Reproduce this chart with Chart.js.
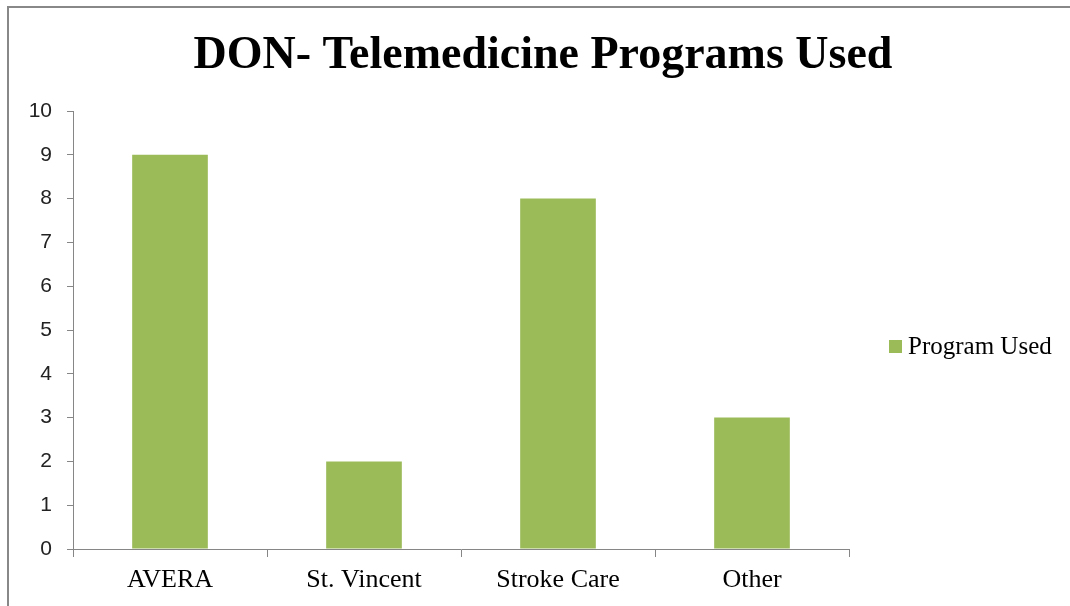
<!DOCTYPE html>
<html>
<head>
<meta charset="utf-8">
<script src="https://cdn.jsdelivr.net/npm/chart.js@4/dist/chart.umd.min.js"></script>
<style>
  html, body { margin: 0; padding: 0; background: #fff; overflow: hidden; }
  #frame { position: absolute; left: 7px; top: 6px; width: 2000px; height: 2000px;
           border-left: 2px solid #888; border-top: 2px solid #888; }
  #c { position: absolute; left: 0; top: 0; }
</style>
</head>
<body>
<div id="frame"></div>
<canvas id="c" width="1070" height="606"></canvas>
<script>
const chartTitle = 'DON- Telemedicine Programs Used';
const categories = ['AVERA', 'St. Vincent', 'Stroke Care', 'Other'];
const seriesName = 'Program Used';
const programUsed = [9, 2, 8, 3];
const yTicks = [0, 1, 2, 3, 4, 5, 6, 7, 8, 9, 10];

const BAR_COLOR = '#9BBB59';
const AXIS_COLOR = '#868686';

const overlayPlugin = {
  id: 'overlay',
  afterDraw(chart) {
    const ctx = chart.ctx;
    ctx.save();
    // title
    ctx.fillStyle = '#000';
    ctx.font = 'bold 46px "Liberation Serif", "Times New Roman", serif';
    ctx.textAlign = 'center';
    ctx.textBaseline = 'alphabetic';
    ctx.fillText(chartTitle, 543, 68);
    // legend
    const ds = chart.data.datasets[0];
    ctx.fillStyle = ds.backgroundColor;
    ctx.fillRect(889, 340, 13, 13);
    ctx.fillStyle = '#000';
    ctx.font = '25px "Liberation Serif", "Times New Roman", serif';
    ctx.textAlign = 'left';
    ctx.textBaseline = 'middle';
    ctx.fillText(ds.label, 908, 347);
    ctx.restore();
  }
};

new Chart(document.getElementById('c'), {
  type: 'bar',
  data: {
    labels: categories,
    datasets: [{
      label: seriesName,
      data: programUsed,
      backgroundColor: BAR_COLOR,
      borderWidth: 0,
      categoryPercentage: 1,
      barPercentage: 0.39
    }]
  },
  options: {
    responsive: false,
    animation: false,
    devicePixelRatio: 1,
    layout: { padding: { top: 111, right: 221, bottom: 0, left: 0 } },
    plugins: {
      legend: { display: false },
      title: { display: false },
      tooltip: { enabled: false }
    },
    scales: {
      x: {
        afterFit(s) { s.height = 57; },
        grid: { offset: true, drawOnChartArea: false, color: AXIS_COLOR, tickLength: 8, lineWidth: 1 },
        border: { color: AXIS_COLOR, width: 1 },
        ticks: {
          color: '#000',
          padding: 8,
          font: { family: '"Liberation Serif", "Times New Roman", serif', size: 26 }
        }
      },
      y: {
        min: 0,
        max: 10,
        afterFit(s) { s.width = 73; },
        afterBuildTicks(s) { s.ticks = yTicks.map(v => ({ value: v })); },
        grid: { drawOnChartArea: false, color: AXIS_COLOR, tickLength: 6, lineWidth: 1 },
        border: { color: AXIS_COLOR, width: 1 },
        ticks: {
          color: '#222',
          padding: 15,
          font: { family: '"Liberation Sans", Arial, sans-serif', size: 21 }
        }
      }
    }
  },
  plugins: [overlayPlugin]
});
</script>
</body>
</html>
